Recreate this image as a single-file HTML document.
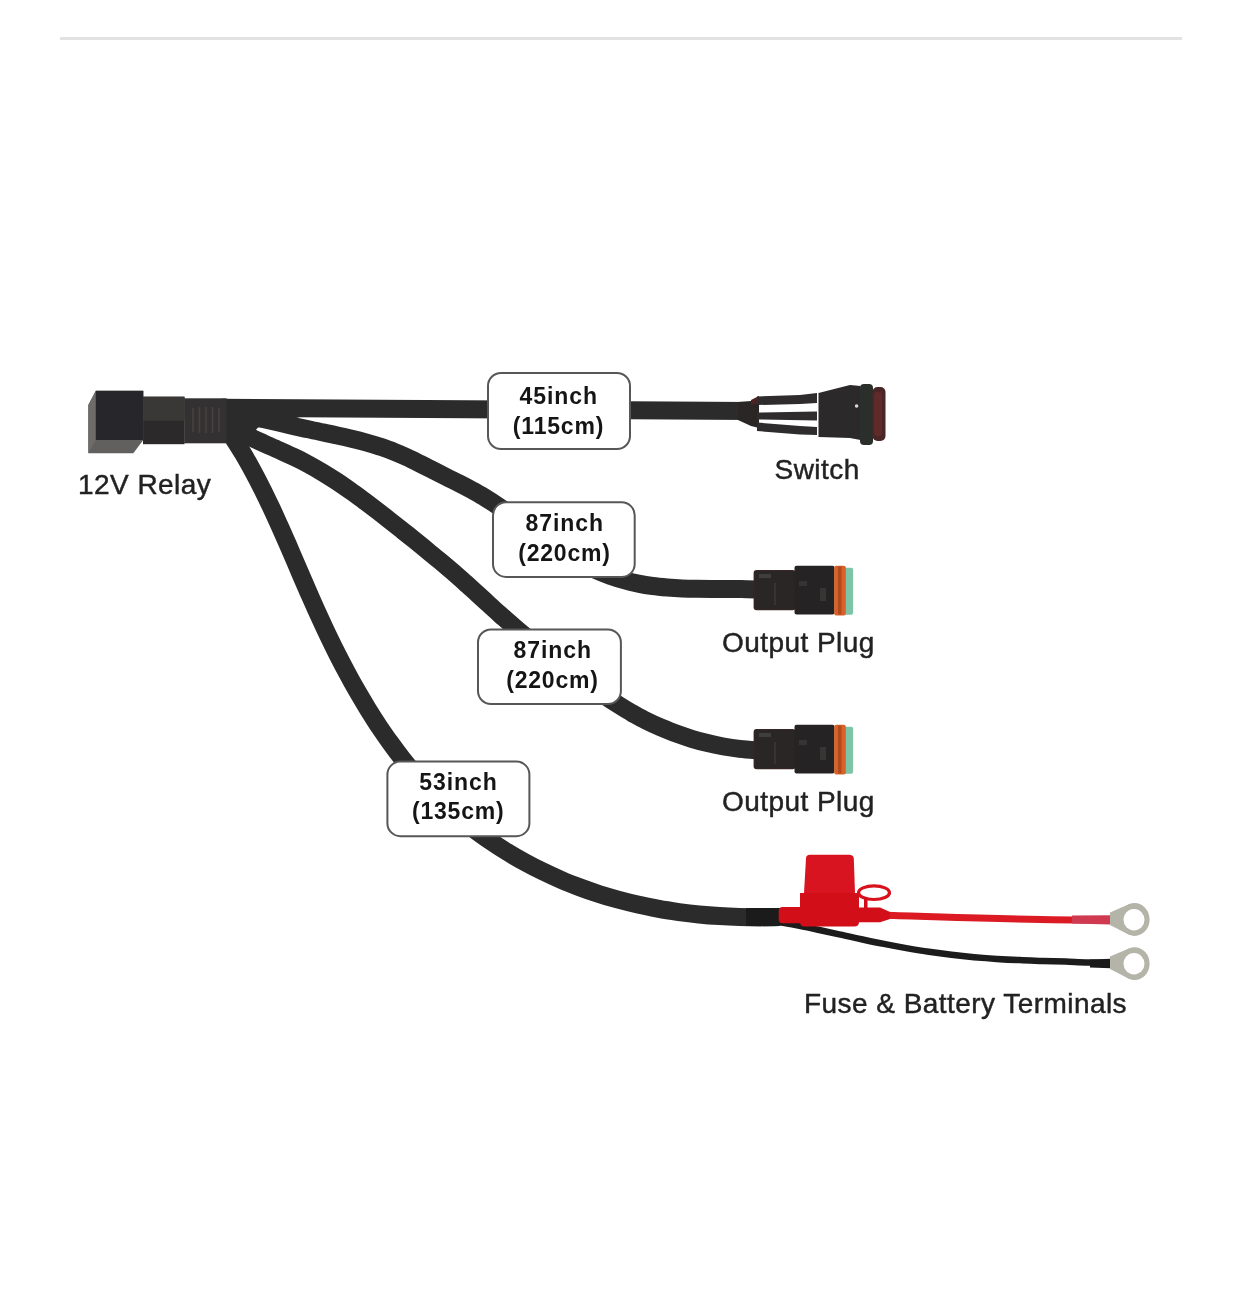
<!DOCTYPE html>
<html>
<head>
<meta charset="utf-8">
<style>
html,body{margin:0;padding:0;background:#fff;}
body{width:1242px;height:1309px;overflow:hidden;position:relative;}
svg{position:absolute;left:0;top:0;display:block;}
svg{will-change:transform;filter:blur(0.4px);}
</style>
</head>
<body>
<svg width="1242" height="1309" viewBox="0 0 1242 1309">
  <rect x="0" y="0" width="1242" height="1309" fill="#ffffff"/>
  <rect x="60" y="37" width="1122" height="3" fill="#e2e2e2"/>

  <!-- cables -->
  <g fill="none" stroke="#2b2b2b" stroke-width="18" stroke-linecap="butt">
    <path id="c1" d="M222,407.8 L750,411" stroke-width="18"/>
    <path id="c2" d="M222.0,411.0 C224.4,411.4 231.7,412.5 236.6,413.4 C241.4,414.3 246.2,415.3 251.0,416.3 C255.8,417.3 260.6,418.4 265.3,419.5 C270.1,420.6 274.9,421.7 279.6,422.8 C284.4,423.9 289.2,425.1 294.0,426.2 C298.7,427.2 303.5,428.3 308.3,429.3 C313.1,430.4 318.0,431.4 322.8,432.4 C327.6,433.4 332.4,434.4 337.2,435.5 C342.0,436.5 346.8,437.6 351.6,438.8 C356.3,439.9 361.1,441.1 365.8,442.4 C370.5,443.7 375.2,445.1 379.9,446.6 C384.5,448.2 389.1,449.8 393.7,451.6 C398.2,453.4 402.7,455.3 407.2,457.4 C411.6,459.4 416.0,461.7 420.4,463.9 C424.8,466.1 429.2,468.3 433.6,470.6 C438.0,472.8 442.4,475.0 446.8,477.2 C451.1,479.4 455.5,481.5 459.9,483.8 C464.2,486.0 468.6,488.3 472.9,490.6 C477.1,493.0 481.4,495.4 485.6,498.0 C489.7,500.5 493.8,503.2 497.9,506.0 C502.0,508.7 506.0,511.5 510.0,514.4 C514.1,517.2 518.0,520.2 522.0,523.1 C526.0,526.0 530.0,528.9 534.0,531.8 C538.0,534.7 541.9,537.6 546.0,540.5 C550.0,543.3 554.0,546.1 558.1,548.8 C562.2,551.5 566.4,554.2 570.6,556.7 C574.8,559.2 579.0,561.6 583.3,563.9 C587.7,566.2 592.1,568.3 596.5,570.3 C601.0,572.3 605.5,574.1 610.1,575.8 C614.7,577.4 619.3,578.9 624.0,580.2 C628.7,581.6 633.5,582.7 638.3,583.6 C643.0,584.6 647.9,585.4 652.7,586.0 C657.6,586.7 662.5,587.1 667.4,587.5 C672.3,587.9 677.3,588.2 682.2,588.4 C687.2,588.6 692.2,588.7 697.1,588.8 C702.1,588.9 707.0,588.9 712.0,588.9 C716.9,588.9 721.9,588.9 726.8,588.9 C731.7,589.0 736.6,589.0 741.5,589.1 C746.4,589.2 753.6,589.4 756.0,589.5"/>
    <path id="c3" d="M222.0,420.0 C224.3,421.5 230.9,426.3 235.6,429.1 C240.2,431.9 245.0,434.4 249.9,436.9 C254.7,439.3 259.7,441.5 264.6,443.8 C269.6,446.0 274.6,448.1 279.6,450.4 C284.5,452.6 289.5,454.8 294.4,457.2 C299.3,459.5 304.1,462.0 308.9,464.6 C313.7,467.2 318.4,469.9 323.0,472.7 C327.6,475.5 332.2,478.4 336.8,481.4 C341.3,484.4 345.8,487.5 350.2,490.6 C354.7,493.7 359.1,497.0 363.4,500.2 C367.8,503.5 372.1,506.8 376.5,510.1 C380.8,513.4 385.1,516.8 389.4,520.2 C393.6,523.5 397.9,526.9 402.2,530.3 C406.5,533.7 410.7,537.1 415.0,540.5 C419.2,543.9 423.4,547.3 427.6,550.8 C431.8,554.2 436.0,557.7 440.2,561.2 C444.3,564.7 448.5,568.2 452.6,571.7 C456.7,575.3 460.8,578.9 464.8,582.5 C468.9,586.1 472.9,589.8 477.0,593.5 C481.0,597.1 485.0,600.8 489.0,604.5 C493.0,608.2 497.0,611.8 501.1,615.5 C505.2,619.1 509.2,622.7 513.4,626.2 C517.5,629.8 521.7,633.3 525.9,636.7 C530.1,640.2 534.3,643.5 538.6,646.9 C542.9,650.2 547.2,653.5 551.6,656.8 C555.9,660.1 560.3,663.4 564.6,666.7 C569.0,669.9 573.4,673.2 577.7,676.4 C582.1,679.7 586.5,682.9 591.0,686.1 C595.4,689.3 599.8,692.4 604.4,695.5 C608.9,698.6 613.4,701.6 618.0,704.5 C622.6,707.4 627.2,710.3 631.9,713.0 C636.7,715.6 641.4,718.2 646.3,720.7 C651.1,723.1 656.1,725.4 661.1,727.6 C666.1,729.7 671.1,731.8 676.2,733.6 C681.3,735.5 686.5,737.2 691.7,738.8 C696.9,740.4 702.2,741.8 707.5,743.1 C712.8,744.4 718.1,745.5 723.5,746.5 C728.9,747.4 734.3,748.2 739.7,748.9 C745.1,749.5 753.3,750.1 756.0,750.3"/>
    <path id="c4" d="M232.0,436.0 C233.8,438.9 239.3,447.4 242.8,453.2 C246.2,459.0 249.5,464.9 252.8,470.8 C256.0,476.7 259.1,482.7 262.1,488.7 C265.1,494.7 268.0,500.8 270.9,506.9 C273.8,512.9 276.5,519.1 279.3,525.2 C282.1,531.3 284.8,537.5 287.5,543.7 C290.2,549.9 292.8,556.1 295.5,562.3 C298.2,568.5 300.8,574.7 303.5,580.9 C306.2,587.2 308.9,593.4 311.7,599.6 C314.4,605.8 317.2,612.0 320.1,618.2 C322.9,624.4 325.8,630.6 328.8,636.8 C331.7,642.9 334.7,649.0 337.8,655.1 C340.9,661.2 344.1,667.3 347.3,673.2 C350.5,679.2 353.8,685.2 357.2,691.1 C360.6,697.0 364.1,702.8 367.6,708.6 C371.2,714.4 374.8,720.1 378.5,725.7 C382.3,731.3 386.1,736.9 390.1,742.4 C394.0,747.8 398.0,753.2 402.2,758.5 C406.3,763.7 410.6,768.9 415.0,774.0 C419.4,779.1 423.9,784.0 428.5,788.9 C433.1,793.7 437.9,798.4 442.8,803.0 C447.7,807.6 452.7,812.1 457.8,816.4 C463.0,820.8 468.2,825.0 473.6,829.1 C479.0,833.1 484.5,837.1 490.1,840.9 C495.6,844.7 501.3,848.4 507.1,851.9 C512.9,855.5 518.8,858.9 524.7,862.1 C530.7,865.4 536.7,868.5 542.8,871.4 C548.9,874.4 555.1,877.2 561.4,879.9 C567.6,882.6 574.0,885.1 580.3,887.5 C586.7,889.9 593.1,892.1 599.6,894.2 C606.1,896.2 612.6,898.2 619.1,899.9 C625.7,901.7 632.3,903.3 638.9,904.8 C645.5,906.3 652.2,907.6 658.9,908.9 C665.5,910.1 672.2,911.1 678.9,912.1 C685.7,913.0 692.4,913.8 699.1,914.5 C705.9,915.2 712.6,915.7 719.4,916.1 C726.1,916.6 732.9,916.9 739.6,917.1 C746.4,917.3 753.1,917.4 759.9,917.4 C766.6,917.4 776.6,917.1 780.0,917.0"/>
  </g>

  <path d="M222,399.5 L300,417 L258,427.5 L245,443 L222,443 Z" fill="#2b2b2b"/>
  <!-- relay -->
  <g>
    <rect x="143" y="396.7" width="41.5" height="47.5" fill="#2b2929"/>
    <rect x="143" y="396.7" width="41.5" height="24" fill="#3a3837"/>
    <rect x="184.2" y="398.3" width="42.5" height="45" fill="#333131"/>
    <g stroke="#454342" stroke-width="1.6">
      <line x1="193" y1="408" x2="193" y2="432"/>
      <line x1="199.5" y1="407" x2="199.5" y2="433"/>
      <line x1="206" y1="407" x2="206" y2="433"/>
      <line x1="212.5" y1="407" x2="212.5" y2="433"/>
      <line x1="219" y1="408" x2="219" y2="432"/>
    </g>
    <polygon points="88.3,405 95.8,390.8 143.3,390.8 143.3,440 133.3,453.3 88.3,453.3" fill="#62605f"/>
    <polygon points="88.3,405 95.8,390.8 95.8,440 88.3,453.3" fill="#6e6c6b"/>
    <rect x="95.8" y="390.8" width="47.5" height="49.2" fill="#27262a"/>
  </g>


  <!-- switch -->
  <g>
    <path d="M738,402 L751,401 L759,396 L759,428 L751,426 L738,420 Z" fill="#2a2626"/>
    <path d="M751,400 L759,396 L759,403 L751,405 Z" fill="#4a2424"/>
    <path d="M757,396.5 L800,395 L817,393 L817,403 L800,404 L757,405 Z" fill="#2e2c2c"/>
    <path d="M757,412.5 L817,411.5 L817,420.5 L757,419.5 Z" fill="#2e2c2c"/>
    <path d="M757,422.5 L800,426 L817,427 L817,435 L800,434.5 L757,431 Z" fill="#2e2c2c"/>
    <path d="M818.5,393 L850,385 L860.5,386 L860.5,440 L850,438 L818.5,437 Z" fill="#2b2929"/>
    <circle cx="856.6" cy="406" r="1.8" fill="#d8d8d8"/>
    <rect x="860" y="384" width="13" height="61" rx="4" fill="#2b2f2c"/>
    <rect x="872.5" y="387" width="13" height="54" rx="5" fill="#4a2626"/>
    <rect x="874" y="392" width="8" height="44" rx="3" fill="#5e2a2a"/>
  </g>

  <!-- output plugs -->
  <g>
    <rect x="753.6" y="569.9" width="42" height="40.3" rx="3" fill="#3a2626"/>
    <rect x="754.6" y="570.9" width="40" height="38.3" rx="2" fill="#2a2626"/>
    <rect x="794.5" y="565.7" width="40" height="48.7" rx="2" fill="#252323"/>
    <rect x="759" y="574" width="12" height="4" fill="#3e3e3c"/>
    <rect x="774" y="583" width="2" height="22" fill="#363433"/>
    <rect x="799" y="581" width="8" height="5" fill="#363433"/>
    <rect x="820" y="588" width="6" height="13" fill="#383635"/>
    <rect x="843" y="567.8" width="10.1" height="47" rx="2" fill="#7dc5a6"/>
    <rect x="834.2" y="565.7" width="11.6" height="49.7" rx="2" fill="#d9622a"/>
    <rect x="838" y="566.5" width="3.5" height="48" fill="#b24a1c"/>
  </g>
  <g transform="translate(0,159)">
    <rect x="753.6" y="569.9" width="42" height="40.3" rx="3" fill="#3a2626"/>
    <rect x="754.6" y="570.9" width="40" height="38.3" rx="2" fill="#2a2626"/>
    <rect x="794.5" y="565.7" width="40" height="48.7" rx="2" fill="#252323"/>
    <rect x="759" y="574" width="12" height="4" fill="#3e3e3c"/>
    <rect x="774" y="583" width="2" height="22" fill="#363433"/>
    <rect x="799" y="581" width="8" height="5" fill="#363433"/>
    <rect x="820" y="588" width="6" height="13" fill="#383635"/>
    <rect x="843" y="567.8" width="10.1" height="47" rx="2" fill="#7dc5a6"/>
    <rect x="834.2" y="565.7" width="11.6" height="49.7" rx="2" fill="#d9622a"/>
    <rect x="838" y="566.5" width="3.5" height="48" fill="#b24a1c"/>
  </g>

  <!-- fuse and terminals -->
  <g>
    <rect x="746" y="908" width="34" height="18" fill="#1b1b1b"/>
    <path d="M772.0,921.0 C775.7,921.7 787.0,923.5 794.5,924.9 C802.0,926.3 809.4,927.9 816.9,929.5 C824.3,931.1 831.7,932.7 839.2,934.4 C846.6,936.0 854.1,937.7 861.5,939.2 C868.9,940.8 876.4,942.4 883.9,943.9 C891.3,945.4 898.8,946.8 906.3,948.1 C913.8,949.4 921.3,950.7 928.8,951.8 C936.3,952.9 943.8,953.9 951.4,954.8 C958.9,955.7 966.5,956.5 974.1,957.2 C981.7,957.8 989.2,958.4 996.8,958.9 C1004.4,959.4 1012.1,959.8 1019.7,960.1 C1027.3,960.5 1034.9,960.7 1042.6,961.0 C1050.2,961.2 1057.8,961.4 1065.4,961.6 C1073.1,961.9 1080.7,962.0 1088.3,962.4 C1095.9,962.7 1107.2,963.3 1111.0,963.5" fill="none" stroke="#1c1c1c" stroke-width="6.5"/>
    <path d="M885,915.3 C950,917 1040,920.5 1111,920" fill="none" stroke="#dc1a24" stroke-width="7"/>
    <path d="M1072,915.5 L1111,915.2 L1111,924.6 L1072,923.5 Z" fill="#d03a50"/>
    <path d="M1090,959.5 L1111,958.8 L1111,968.2 L1090,967.5 Z" fill="#1a1a1a"/>
    <rect x="778.7" y="907" width="30" height="16.3" rx="4" fill="#d20e18"/>
    <path d="M850,907.5 L880,907.5 L890,912 L890,919 L880,922.2 L850,922.2 Z" fill="#d20e18"/>
    <path d="M806,858.5 Q806,854.8 810,854.8 L849,854.8 Q853.5,854.8 853.8,858.5 L855,893 L804,893 Z" fill="#d81420"/>
    <path d="M800,893 L859,893 L859,922 Q859,926.5 854,926.5 L805,926.5 Q800,926.5 800,922 Z" fill="#d20e18"/>
    <ellipse cx="874" cy="892.7" rx="15.5" ry="6.8" fill="none" stroke="#d8121c" stroke-width="3.2"/>
    <rect x="864" y="897" width="3.5" height="12" fill="#d20e18"/>
    <g fill="#b4b4a8">
      <path d="M1110,912.5 L1129.5,904.1 L1129.5,934.9 L1110,925 Z"/>
      <ellipse cx="1134.6" cy="919.5" rx="15" ry="16.4"/>
      <path d="M1110,956.6 L1129.5,948.3 L1129.5,979.1 L1110,969 Z"/>
      <ellipse cx="1134.6" cy="963.7" rx="15" ry="16.4"/>
    </g>
    <g fill="#ffffff">
      <ellipse cx="1134" cy="919.7" rx="10.5" ry="10.7"/>
      <ellipse cx="1134" cy="963.7" rx="10.5" ry="10.7"/>
    </g>
  </g>
  <!-- boxes -->
  <g fill="#ffffff" stroke="#575757" stroke-width="2">
    <rect x="488" y="373" width="142" height="76" rx="13"/>
    <rect x="493" y="502.3" width="141.7" height="74.6" rx="13"/>
    <rect x="478" y="629.4" width="142.9" height="74.6" rx="13"/>
    <rect x="387.4" y="761.6" width="142" height="74.6" rx="13"/>
  </g>
  <g font-family="Liberation Sans, sans-serif" font-weight="bold" font-size="23" fill="#151515" text-anchor="middle" letter-spacing="0.6">
    <text x="558.8" y="403.8" letter-spacing="0.95">45inch</text>
    <text x="558.5" y="434.0" letter-spacing="0.8">(115cm)</text>
    <text x="564.8" y="531.0" letter-spacing="0.95">87inch</text>
    <text x="564.5" y="561.1" letter-spacing="0.8">(220cm)</text>
    <text x="552.8" y="657.6" letter-spacing="0.95">87inch</text>
    <text x="552.5" y="688.0" letter-spacing="0.8">(220cm)</text>
    <text x="458.5" y="789.6" letter-spacing="0.95">53inch</text>
    <text x="458.2" y="819.4" letter-spacing="0.8">(135cm)</text>
  </g>

  <!-- labels -->
  <g font-family="Liberation Sans, sans-serif" font-size="28" fill="#222222" stroke="#222222" stroke-width="0.45" letter-spacing="0.45">
    <text x="78" y="493.5">12V Relay</text>
    <text x="774.5" y="479.0">Switch</text>
    <text x="722" y="652.1">Output Plug</text>
    <text x="722" y="810.7">Output Plug</text>
    <text x="804" y="1012.7">Fuse &amp; Battery Terminals</text>
  </g>
</svg>
</body>
</html>
